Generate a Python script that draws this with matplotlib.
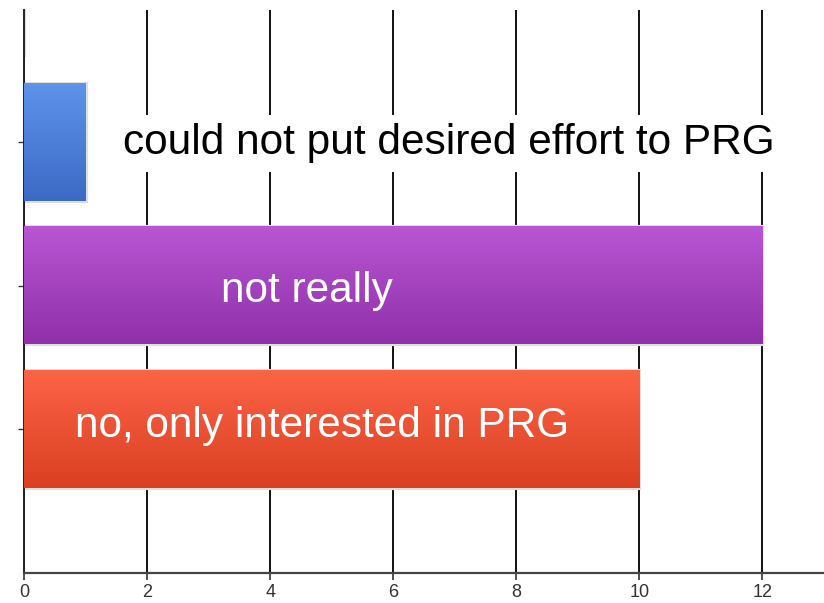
import numpy as np
import matplotlib.pyplot as plt
from matplotlib.colors import LinearSegmentedColormap

plt.rcParams['font.family'] = ['Liberation Sans', 'DejaVu Sans']

# answers, top to bottom
answers = ["", "could not put desired effort to PRG", "not really", "no, only interested in PRG"]
counts = [0, 1, 12, 10]
top_colors = ["#dddddd", "#5e93ea", "#b956d4", "#fc6448"]
bottom_colors = ["#cccccc", "#3c6ac6", "#9030a9", "#da3f20"]
label_x = [0, 6.9, 4.6, 4.85]
label_dy = [0, 0.083, 0.113, 0.054]   # baseline offset from bar centre
label_colors = ["black", "black", "white", "white"]

fig = plt.figure(figsize=(8.24, 6.03), dpi=100)
ax = fig.add_axes([24 / 824, 30 / 603, 800 / 824, 563 / 603])

ypos = np.arange(len(counts))
bar_h = 0.815

ax.set_xlim(0, 13)
ax.set_ylim(4, 0.08)

# vertical grid behind everything
for gx in range(0, 13, 2):
    ax.axvline(gx, color="#111111", lw=1.4, zorder=0)

for i, (y, v) in enumerate(zip(ypos, counts)):
    # light frame around each bar
    ax.barh(y, v, height=bar_h, color="none", edgecolor="#dedede", lw=3, zorder=2)
    if v > 0:
        cmap = LinearSegmentedColormap.from_list("g", [top_colors[i], bottom_colors[i]])
        grad = np.linspace(0, 1, 256).reshape(-1, 1)
        ax.imshow(grad, cmap=cmap, aspect="auto", interpolation="bicubic",
                  extent=(0, v, y + bar_h / 2, y - bar_h / 2), zorder=3)
    if answers[i]:
        kw = {}
        if label_colors[i] == "black":
            kw["bbox"] = dict(facecolor="white", edgecolor="none", pad=6)
        ax.text(label_x[i], y + label_dy[i], answers[i], ha="center", va="baseline",
                fontsize=30.5, color=label_colors[i], zorder=4, **kw)

ax.set_xticks(range(0, 13, 2))
ax.set_yticks(ypos[1:])
ax.set_yticklabels([])
ax.tick_params(axis="x", length=5, width=1.2, color="#333333", labelsize=13,
               labelcolor="#333333", pad=3)
ax.tick_params(axis="y", length=4, width=1, color="#333333")
for s in ["top", "right"]:
    ax.spines[s].set_visible(False)
ax.spines["left"].set_color("#222222")
ax.spines["left"].set_linewidth(1.4)
ax.spines["bottom"].set_color("#444444")
ax.spines["bottom"].set_linewidth(1.6)

fig.savefig("out.png", dpi=100)
